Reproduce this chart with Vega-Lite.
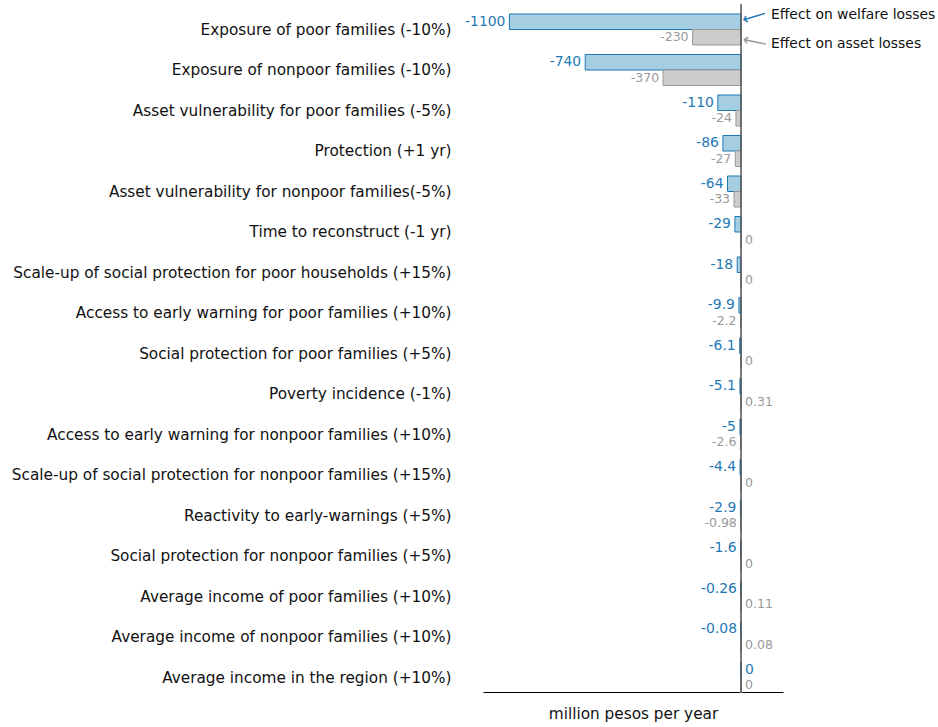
{
  "$schema": "https://vega.github.io/schema/vega-lite/v6.json",
  "autosize": "none",
  "width": 300,
  "height": 688,
  "padding": {"left": 483, "top": 4, "right": 155, "bottom": 35},
  "config": {
    "font": "DejaVu Sans",
    "view": {"stroke": null}
  },
  "datasets": {
    "bars": [
      {"cat": "Exposure of poor families (-10%)", "series": "welfare", "value": -1100},
      {"cat": "Exposure of poor families (-10%)", "series": "asset", "value": -230},
      {"cat": "Exposure of nonpoor families (-10%)", "series": "welfare", "value": -740},
      {"cat": "Exposure of nonpoor families (-10%)", "series": "asset", "value": -370},
      {"cat": "Asset vulnerability for poor families (-5%)", "series": "welfare", "value": -110},
      {"cat": "Asset vulnerability for poor families (-5%)", "series": "asset", "value": -24},
      {"cat": "Protection (+1 yr)", "series": "welfare", "value": -86},
      {"cat": "Protection (+1 yr)", "series": "asset", "value": -27},
      {"cat": "Asset vulnerability for nonpoor families(-5%)", "series": "welfare", "value": -64},
      {"cat": "Asset vulnerability for nonpoor families(-5%)", "series": "asset", "value": -33},
      {"cat": "Time to reconstruct (-1 yr)", "series": "welfare", "value": -29},
      {"cat": "Time to reconstruct (-1 yr)", "series": "asset", "value": 0},
      {"cat": "Scale-up of social protection for poor households (+15%)", "series": "welfare", "value": -18},
      {"cat": "Scale-up of social protection for poor households (+15%)", "series": "asset", "value": 0},
      {"cat": "Access to early warning for poor families (+10%)", "series": "welfare", "value": -9.9},
      {"cat": "Access to early warning for poor families (+10%)", "series": "asset", "value": -2.2},
      {"cat": "Social protection for poor families (+5%)", "series": "welfare", "value": -6.1},
      {"cat": "Social protection for poor families (+5%)", "series": "asset", "value": 0},
      {"cat": "Poverty incidence (-1%)", "series": "welfare", "value": -5.1},
      {"cat": "Poverty incidence (-1%)", "series": "asset", "value": 0.31},
      {"cat": "Access to early warning for nonpoor families (+10%)", "series": "welfare", "value": -5},
      {"cat": "Access to early warning for nonpoor families (+10%)", "series": "asset", "value": -2.6},
      {"cat": "Scale-up of social protection for nonpoor families (+15%)", "series": "welfare", "value": -4.4},
      {"cat": "Scale-up of social protection for nonpoor families (+15%)", "series": "asset", "value": 0},
      {"cat": "Reactivity to early-warnings (+5%)", "series": "welfare", "value": -2.9},
      {"cat": "Reactivity to early-warnings (+5%)", "series": "asset", "value": -0.98},
      {"cat": "Social protection for nonpoor families (+5%)", "series": "welfare", "value": -1.6},
      {"cat": "Social protection for nonpoor families (+5%)", "series": "asset", "value": 0},
      {"cat": "Average income of poor families (+10%)", "series": "welfare", "value": -0.26},
      {"cat": "Average income of poor families (+10%)", "series": "asset", "value": 0.11},
      {"cat": "Average income of nonpoor families (+10%)", "series": "welfare", "value": -0.08},
      {"cat": "Average income of nonpoor families (+10%)", "series": "asset", "value": 0.08},
      {"cat": "Average income in the region (+10%)", "series": "welfare", "value": 0},
      {"cat": "Average income in the region (+10%)", "series": "asset", "value": 0}
    ],
    "notes": [
      {"cat": "Exposure of poor families (-10%)", "series": "welfare", "x": 142.5, "arrowx": 70, "text": "Effect on welfare losses", "glyph": "⟵"},
      {"cat": "Exposure of poor families (-10%)", "series": "asset", "x": 142.5, "arrowx": 70, "text": "Effect on asset losses", "glyph": "⟵"}
    ],
    "zero": [{"x": 0}]
  },
  "encoding": {
    "y": {
      "field": "cat", "type": "nominal", "sort": null,
      "scale": {"range": [5.25, 693.75], "paddingInner": 0, "paddingOuter": 0},
      "axis": {"title": null, "domain": false, "ticks": false, "labelPadding": 32, "labelFontSize": 15.3, "labelColor": "#111111", "labelLimit": 600}
    },
    "yOffset": {
      "field": "series", "type": "nominal",
      "scale": {"domain": ["welfare", "asset"], "paddingInner": 0, "paddingOuter": 0.306}
    }
  },
  "layer": [
    {
      "data": {"name": "bars"},
      "mark": {"type": "bar", "strokeWidth": 1},
      "encoding": {
        "x": {
          "field": "value", "type": "quantitative",
          "scale": {"domain": [-1225.5, 199.5], "nice": false, "zero": false},
          "axis": {"title": "million pesos per year", "titleFontSize": 15.3, "titleFontWeight": "normal", "titleColor": "#111111", "titlePadding": 14, "labels": false, "ticks": false, "grid": false, "domainColor": "#000000", "domainWidth": 1}
        },
        "color": {"field": "series", "type": "nominal", "scale": {"domain": ["welfare", "asset"], "range": ["#a6cee3", "#cccccc"]}, "legend": null},
        "stroke": {"field": "series", "type": "nominal", "scale": {"domain": ["welfare", "asset"], "range": ["#1f78b4", "#999999"]}, "legend": null}
      }
    },
    {
      "data": {"name": "zero"},
      "mark": {"type": "rule", "color": "#505050", "strokeWidth": 1.5},
      "encoding": {"x": {"field": "x", "type": "quantitative"}, "y": null, "yOffset": null}
    },
    {
      "data": {"name": "bars"},
      "transform": [{"filter": "datum.series == 'welfare' && datum.value < 0"}],
      "mark": {"type": "text", "align": "right", "baseline": "middle", "dx": -4, "fontSize": 13.9, "color": "#1f78b4"},
      "encoding": {"x": {"field": "value", "type": "quantitative"}, "text": {"field": "value", "type": "nominal"}}
    },
    {
      "data": {"name": "bars"},
      "transform": [{"filter": "datum.series == 'welfare' && datum.value >= 0"}],
      "mark": {"type": "text", "align": "left", "baseline": "middle", "dx": 4, "fontSize": 13.9, "color": "#1f78b4"},
      "encoding": {"x": {"field": "value", "type": "quantitative"}, "text": {"field": "value", "type": "nominal"}}
    },
    {
      "data": {"name": "bars"},
      "transform": [{"filter": "datum.series == 'asset' && datum.value < 0"}],
      "mark": {"type": "text", "align": "right", "baseline": "middle", "dx": -4, "fontSize": 12.5, "color": "#999999"},
      "encoding": {"x": {"field": "value", "type": "quantitative"}, "text": {"field": "value", "type": "nominal"}}
    },
    {
      "data": {"name": "bars"},
      "transform": [{"filter": "datum.series == 'asset' && datum.value >= 0"}],
      "mark": {"type": "text", "align": "left", "baseline": "middle", "dx": 4, "fontSize": 12.5, "color": "#999999"},
      "encoding": {"x": {"field": "value", "type": "quantitative"}, "text": {"field": "value", "type": "nominal"}}
    },
    {
      "data": {"name": "notes"},
      "transform": [{"filter": "datum.series == 'welfare'"}],
      "mark": {"type": "text", "align": "left", "baseline": "middle", "dy": -7, "fontSize": 13.9, "color": "#111111"},
      "encoding": {"x": {"field": "x", "type": "quantitative"}, "text": {"field": "text", "type": "nominal"}}
    },
    {
      "data": {"name": "notes"},
      "transform": [{"filter": "datum.series == 'asset'"}],
      "mark": {"type": "text", "align": "left", "baseline": "middle", "dy": 7, "fontSize": 13.9, "color": "#111111"},
      "encoding": {"x": {"field": "x", "type": "quantitative"}, "text": {"field": "text", "type": "nominal"}}
    },
    {
      "data": {"name": "notes"},
      "transform": [{"filter": "datum.series == 'welfare'"}],
      "mark": {"type": "text", "align": "center", "baseline": "middle", "dy": -5, "angle": 343, "fontSize": 17, "color": "#1f78b4"},
      "encoding": {"x": {"field": "arrowx", "type": "quantitative"}, "text": {"field": "glyph", "type": "nominal"}}
    },
    {
      "data": {"name": "notes"},
      "transform": [{"filter": "datum.series == 'asset'"}],
      "mark": {"type": "text", "align": "center", "baseline": "middle", "dy": 5, "angle": 12, "fontSize": 17, "color": "#999999"},
      "encoding": {"x": {"field": "arrowx", "type": "quantitative"}, "text": {"field": "glyph", "type": "nominal"}}
    }
  ]
}
